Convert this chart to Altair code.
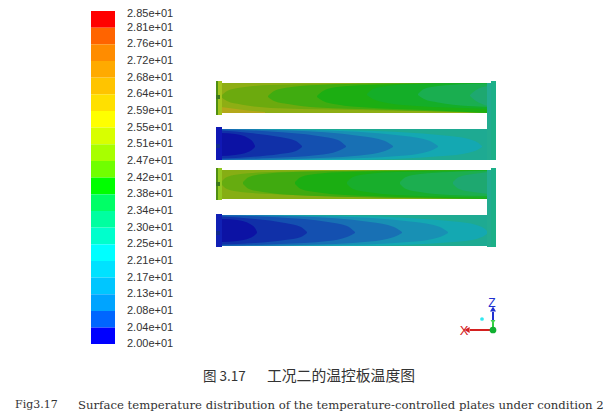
import altair as alt
import pandas as pd

# colour bar
BAR_LABELS = ["2.85e+01", "2.81e+01", "2.76e+01", "2.72e+01", "2.68e+01", "2.64e+01", "2.59e+01",
              "2.55e+01", "2.51e+01", "2.47e+01", "2.42e+01", "2.38e+01", "2.34e+01", "2.30e+01",
              "2.25e+01", "2.21e+01", "2.17e+01", "2.13e+01", "2.08e+01", "2.04e+01", "2.00e+01"]
BAR_COLORS = ["#ff0000", "#ff6400", "#ff8c00", "#ffaa00", "#ffc400", "#ffe000", "#ffff00",
              "#d8ff00", "#a8ff00", "#70ff00", "#00ff00", "#00ff66", "#00ffa0", "#00ffcc",
              "#00ffff", "#00e2ff", "#00c6ff", "#00a4ff", "#0066ff", "#0000ff"]
BAR_EDGES = [11, 27.7, 44.3, 61, 77.6, 94.3, 111, 127.6, 144.3, 161, 177.6,
             194.3, 211, 227.6, 244.3, 261, 277.6, 294.3, 311, 327.6, 344]
LABEL_ROWS = [13.5] + BAR_EDGES[1:]

# plate bodies: left, right, top, bottom, colour
BODIES = [
    (221, 488, 83, 113, "#8eae14"),
    (221, 488, 129, 160, "#1eaa92"),
    (221, 488, 170, 199, "#86ae14"),
    (221, 488, 215, 246, "#1eaa92"),
]

# contour regions: colour, x positions, upper edge, lower edge
PLATE1 = [
    ("#b4a81a", [221, 240, 265], [107, 109.5, 112], [113, 113, 113]),
    ("#6caa0e", [221, 227, 241, 271, 331, 488], [96, 91, 87.5, 85, 84, 83], [97, 101, 104.5, 108, 109.5, 112]),
    ("#40ac10", [268, 274, 288, 318, 378, 488], [96, 91, 87.5, 85, 83.5, 83], [97, 101, 104, 107.5, 109.5, 113]),
    ("#1cae12", [317, 323, 337, 367, 427, 488], [96, 91, 87, 85, 83.5, 83], [97, 101, 104.5, 107.5, 110, 113]),
    ("#14ae28", [367, 373, 387, 417, 477, 488], [94, 89, 86, 84, 83, 83], [95, 99, 103, 106, 108.5, 109]),
    ("#1aae50", [418, 424, 438, 468, 488], [94, 89, 86, 84, 83.5], [95, 99, 102.5, 106, 107]),
    ("#1ea870", [470, 476, 488], [95, 90, 86], [96, 101, 106]),
]
PLATE3 = [
    ("#66ac10", [221, 227, 241, 271, 331, 488], [182, 177, 174, 172, 171, 170], [184, 189, 192, 194, 196, 199]),
    ("#40aa10", [243, 249, 263, 293, 353, 488], [182, 177, 174, 172, 171, 170], [184, 189, 192, 195, 197, 199]),
    ("#1bae12", [295, 301, 315, 345, 405, 488], [182, 177, 174, 172, 171, 170], [184, 189, 192, 195, 197, 199]),
    ("#18ae2c", [347, 353, 367, 397, 457, 488], [182, 177, 174, 172, 171, 170], [184, 189, 192, 195, 197, 198]),
    ("#1cae50", [400, 406, 420, 450, 488], [182, 177, 174, 172, 171], [184, 189, 192, 195, 196]),
    ("#1ea870", [453, 459, 473, 488], [182, 177, 174, 172], [184, 189, 192, 194]),
]
PLATE2 = [
    ("#14a8b2", [221, 340, 450, 475, 482], [129, 130, 136, 141, 146], [160, 160, 155.5, 151, 147]),
    ("#1890b4", [221, 310, 405, 430, 438], [129, 130, 136, 141, 146], [160, 159.5, 155.5, 151, 147]),
    ("#1870b4", [221, 290, 360, 385, 393], [129, 130.5, 136, 141, 146], [160, 159, 155.5, 151, 147]),
    ("#1450b0", [221, 270, 318, 338, 346], [129.5, 131.5, 136, 140, 146], [159.5, 158, 155, 151, 147]),
    ("#1030a8", [221, 250, 280, 296, 302], [130.5, 133, 137, 141, 146], [158.5, 157, 154, 151, 147]),
    ("#0c12a4", [221, 235, 248, 253, 255], [133, 134, 138, 142, 146], [156, 155, 152, 149, 147]),
]
PLATE4 = [
    ("#14a8b2", [221, 350, 460, 482, 488], [215, 216, 222, 227, 232], [246, 246, 241.5, 237, 233]),
    ("#1890b4", [221, 320, 415, 440, 448], [215, 216, 222, 227, 232], [246, 245.5, 241.5, 237, 233]),
    ("#1870b4", [221, 300, 370, 394, 402], [215, 216.5, 222, 227, 232], [246, 245, 241.5, 237, 233]),
    ("#1450b0", [221, 280, 328, 347, 355], [215.5, 217.5, 222, 226, 232], [245.5, 244, 241, 237, 233]),
    ("#1030a8", [221, 255, 285, 301, 307], [216.5, 219, 223, 227, 232], [244.5, 243, 240, 237, 233]),
    ("#0c12a4", [221, 237, 250, 255, 257], [219, 220, 224, 228, 232], [242, 241, 238, 235, 233]),
]

# headers and manifolds: left, right, top, bottom, colour
FITTINGS = [
    (216, 218, 81, 115, "#4f8f12"), (218, 222, 81, 115, "#a2c41e"),
    (216, 218, 168, 200, "#4f8f12"), (218, 222, 168, 200, "#92c822"),
    (216, 222, 127, 160, "#1018b4"), (216, 222, 214, 247, "#1020b4"),
    (216, 220, 95, 99, "#3c7a1c"), (216, 220, 182, 186, "#3c7a1c"),
    (216, 220, 144, 148, "#102a90"), (216, 220, 231, 235, "#102a90"),
    (487, 491, 83, 160, "#22ac90"), (487, 491, 170, 247, "#22ac90"),
    (491, 496, 81, 160, "#1cb088"), (491, 496, 168, 247, "#1cb088"),
]

# axis triad
RULES = [(493, 470, 330, 330, "#d42020"), (493, 493, 330, 312, "#2030d0"), (493, 493, 330, 322, "#30d040")]
GLYPHS = [(467, 330, "triangle-left", "#d42020", 36), (493, 309, "triangle-up", "#2030d0", 36),
          (493, 322, "triangle-down", "#40d050", 24), (493, 330, "circle", "#10b030", 45),
          (482, 319, "circle", "#30e8f0", 14)]
TRIAD_TEXT = [(464, 331, "X", "#d42020", 13), (492, 303, "Z", "#2030d0", 12)]

CAPTIONS = [
    (203, 377, "图 3.17", "Noto Sans CJK SC", 13.5),
    (267, 377, "工况二的温控板温度图", "Noto Sans CJK SC", 14.8),
    (15, 405, "Fig3.17", "DejaVu Serif", 11),
    (78, 405, "Surface temperature distribution of the temperature-controlled plates under condition 2", "DejaVu Serif", 11.7),
]

X = alt.Scale(domain=[8, 606])
Y = alt.Scale(domain=[411, 8])


def xe(f):
    return alt.X(f, type="quantitative", scale=X, axis=None)


def ye(f):
    return alt.Y(f, type="quantitative", scale=Y, axis=None)


layers = []


def rects(rows):
    df = pd.DataFrame(rows, columns=["a", "b", "t", "u", "c"])
    return alt.Chart(df).mark_rect().encode(
        x=xe("a"), x2="b:Q", y=ye("t"), y2="u:Q", color=alt.Color("c:N", scale=None))


# colour bar
layers.append(rects([(91, 115, BAR_EDGES[i], BAR_EDGES[i + 1], BAR_COLORS[i]) for i in range(len(BAR_COLORS))]))
lab = pd.DataFrame({"x": [127] * len(BAR_LABELS), "y": LABEL_ROWS, "t": BAR_LABELS})
layers.append(alt.Chart(lab).mark_text(align="left", baseline="middle", font="Liberation Sans", fontSize=11, color="#333333")
              .encode(x=xe("x"), y=ye("y"), text="t:N"))

# plates
layers.append(rects(BODIES))
for plate in (PLATE1, PLATE2, PLATE3, PLATE4):
    for c, xs, tops, bots in plate:
        d = pd.DataFrame({"x": xs, "t": tops, "u": bots})
        layers.append(alt.Chart(d).mark_area(color=c, interpolate="monotone", opacity=1)
                      .encode(x=xe("x"), y=ye("t"), y2="u:Q"))
layers.append(rects(FITTINGS))

# triad
rd = pd.DataFrame(RULES, columns=["a", "b", "t", "u", "c"])
layers.append(alt.Chart(rd).mark_rule(strokeWidth=2).encode(
    x=xe("a"), x2="b:Q", y=ye("t"), y2="u:Q", color=alt.Color("c:N", scale=None)))
gd = pd.DataFrame(GLYPHS, columns=["x", "y", "s", "c", "z"])
layers.append(alt.Chart(gd).mark_point(filled=True, opacity=1).encode(
    x=xe("x"), y=ye("y"), shape=alt.Shape("s:N", scale=None),
    color=alt.Color("c:N", scale=None), size=alt.Size("z:Q", scale=None)))
for x, y, t, c, s in TRIAD_TEXT:
    d = pd.DataFrame({"x": [x], "y": [y], "t": [t]})
    layers.append(alt.Chart(d).mark_text(font="Liberation Sans", fontSize=s, color=c, baseline="middle", align="center")
                  .encode(x=xe("x"), y=ye("y"), text="t:N"))

# captions
for x, y, t, f, s in CAPTIONS:
    d = pd.DataFrame({"x": [x], "y": [y], "t": [t]})
    layers.append(alt.Chart(d).mark_text(font=f, fontSize=s, color="#333333", baseline="middle", align="left")
                  .encode(x=xe("x"), y=ye("y"), text="t:N"))

chart = alt.layer(*layers).properties(
    width=598, height=403, padding=0, background="white",
    autosize=alt.AutoSizeParams(type="none"),
).configure_view(stroke=None)
chart.save("out.html", embed_options={"renderer": "svg", "actions": False})
